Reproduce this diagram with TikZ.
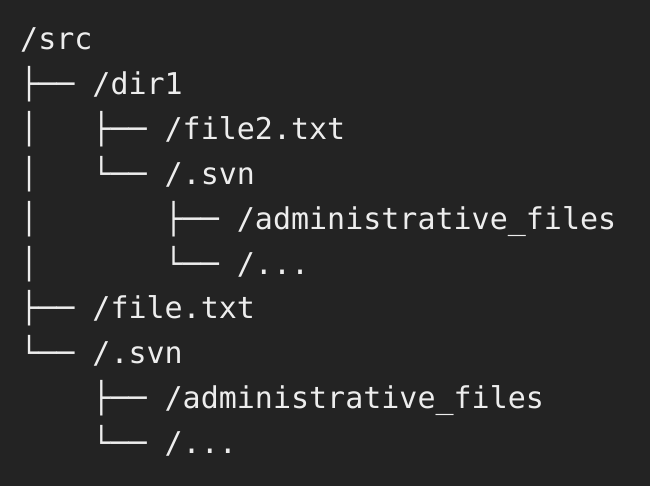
\documentclass[tikz,border=0pt]{standalone}
\usepackage{fontspec}
\newfontfamily\codefont{DejaVu Sans Mono}
\definecolor{bgc}{HTML}{232323}
\definecolor{txc}{HTML}{EDEDED}
\begin{document}
\begin{tikzpicture}[x=1pt,y=1pt,
  codeline/.style={anchor=base west,inner sep=0pt,text=txc,font=\codefont\fontsize{30}{44.8}\selectfont}]
\fill[bgc] (0,0) rectangle (650,-486);
\useasboundingbox (0,0) rectangle (650,-486);
\node[codeline] (l1) at (20,-50) {/src};
\node[codeline] (l2) at (20,-94.8) {├──~/dir1};
\node[codeline] (l3) at (20,-139.6) {│~~~├──~/file2.txt};
\node[codeline] (l4) at (20,-184.4) {│~~~└──~/.svn};
\node[codeline] (l5) at (20,-229.2) {│~~~~~~~├──~/administrative\_files};
\node[codeline] (l6) at (20,-274) {│~~~~~~~└──~/...};
\node[codeline] (l7) at (20,-318.8) {├──~/file.txt};
\node[codeline] (l8) at (20,-363.6) {└──~/.svn};
\node[codeline] (l9) at (20,-408.4) {~~~~├──~/administrative\_files};
\node[codeline] (l10) at (20,-453.2) {~~~~└──~/...};
\end{tikzpicture}
\end{document}
